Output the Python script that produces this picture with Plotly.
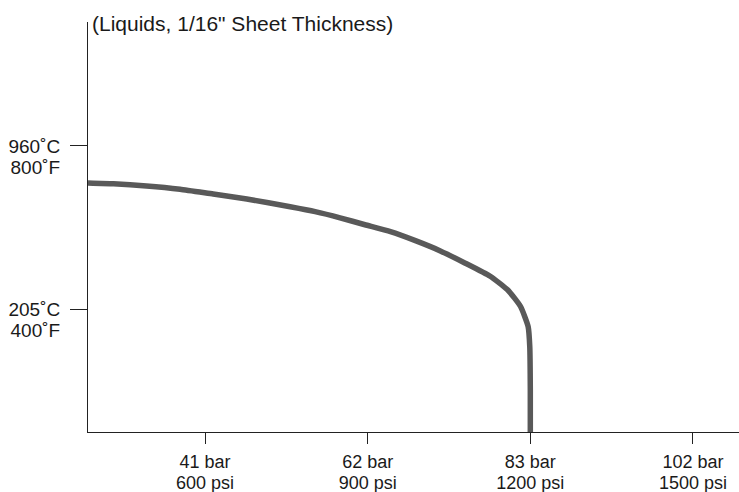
import plotly.graph_objects as go

# Data
pressure_psi = [384, 431, 492, 554, 615, 677, 757, 803, 849, 895, 942, 988, 1034, 1080,
                1126, 1158, 1182, 1196, 1199, 1200, 1200]
temperature_f = [709, 707, 702, 694, 682, 670, 651, 639, 624, 607, 590, 568, 543, 513,
                 481, 448, 407, 358, 309, 203, 100]

x_tickvals = [600, 900, 1200, 1500]
x_ticktext_bar = ["41 bar", "62 bar", "83 bar", "102 bar"]
x_ticktext_psi = ["600 psi", "900 psi", "1200 psi", "1500 psi"]

y_tickvals = [800, 400]
y_ticktext_c = ["960˚C", "205˚C"]
y_ticktext_f = ["800˚F", "400˚F"]

title_text = '(Liquids, 1/16" Sheet Thickness)'

FONT = "Liberation Sans, Arial, Helvetica, sans-serif"
AX = "#222222"

fig = go.Figure()
fig.add_trace(go.Scatter(
    x=pressure_psi, y=temperature_f, mode="lines",
    line=dict(color="#595959", width=5.5, shape="spline", smoothing=0.5),
    hoverinfo="skip", showlegend=False,
))
# invisible trace to activate secondary axes
fig.add_trace(go.Scatter(x=[pressure_psi[0]], y=[temperature_f[0]], xaxis="x2", yaxis="y2",
                         mode="markers", marker=dict(opacity=0), hoverinfo="skip", showlegend=False))

xrange = [384, 1585]
yrange = [100, 1103]

fig.update_layout(
    width=739, height=492,
    margin=dict(l=88, r=0, t=22, b=60),
    paper_bgcolor="white", plot_bgcolor="white",
    font=dict(family=FONT, color="#1a1a1a", size=19),
    title=dict(text=title_text, x=92/739, xref="container", xanchor="left",
               y=1 - 24/492, yref="container", yanchor="middle",
               font=dict(family=FONT, size=21, color="#1a1a1a")),
    xaxis=dict(range=xrange, showgrid=False, zeroline=False, showline=True, automargin=False,
               linecolor=AX, linewidth=1, ticks="outside", ticklen=11, tickwidth=1,
               tickcolor=AX, tickvals=x_tickvals, ticktext=x_ticktext_bar,
               tickfont=dict(size=18), ticklabelstandoff=2),
    xaxis2=dict(range=xrange, overlaying="x", anchor="y", side="bottom", automargin=False,
                showgrid=False, zeroline=False, showline=False,
                ticks="outside", ticklen=11, tickcolor="rgba(0,0,0,0)",
                tickvals=x_tickvals, ticktext=x_ticktext_psi,
                tickfont=dict(size=18), ticklabelstandoff=23),
    yaxis=dict(range=yrange, showgrid=False, zeroline=False, showline=True, automargin=False,
               linecolor=AX, linewidth=1, ticks="outside", ticklen=17, tickwidth=1,
               tickcolor=AX, tickvals=y_tickvals, ticktext=y_ticktext_c,
               tickfont=dict(size=19), ticklabelstandoff=6),
    yaxis2=dict(range=yrange, overlaying="y", anchor="x", side="left", automargin=False,
                showgrid=False, zeroline=False, showline=False,
                ticks="outside", ticklen=17, tickcolor="rgba(0,0,0,0)",
                tickvals=y_tickvals, ticktext=y_ticktext_f,
                tickfont=dict(size=19), ticklabelstandoff=6, ticklabelshift=21),
)

fig.write_html("out.html", config={"displayModeBar": False},
               post_script="document.body.style.margin='0';")
